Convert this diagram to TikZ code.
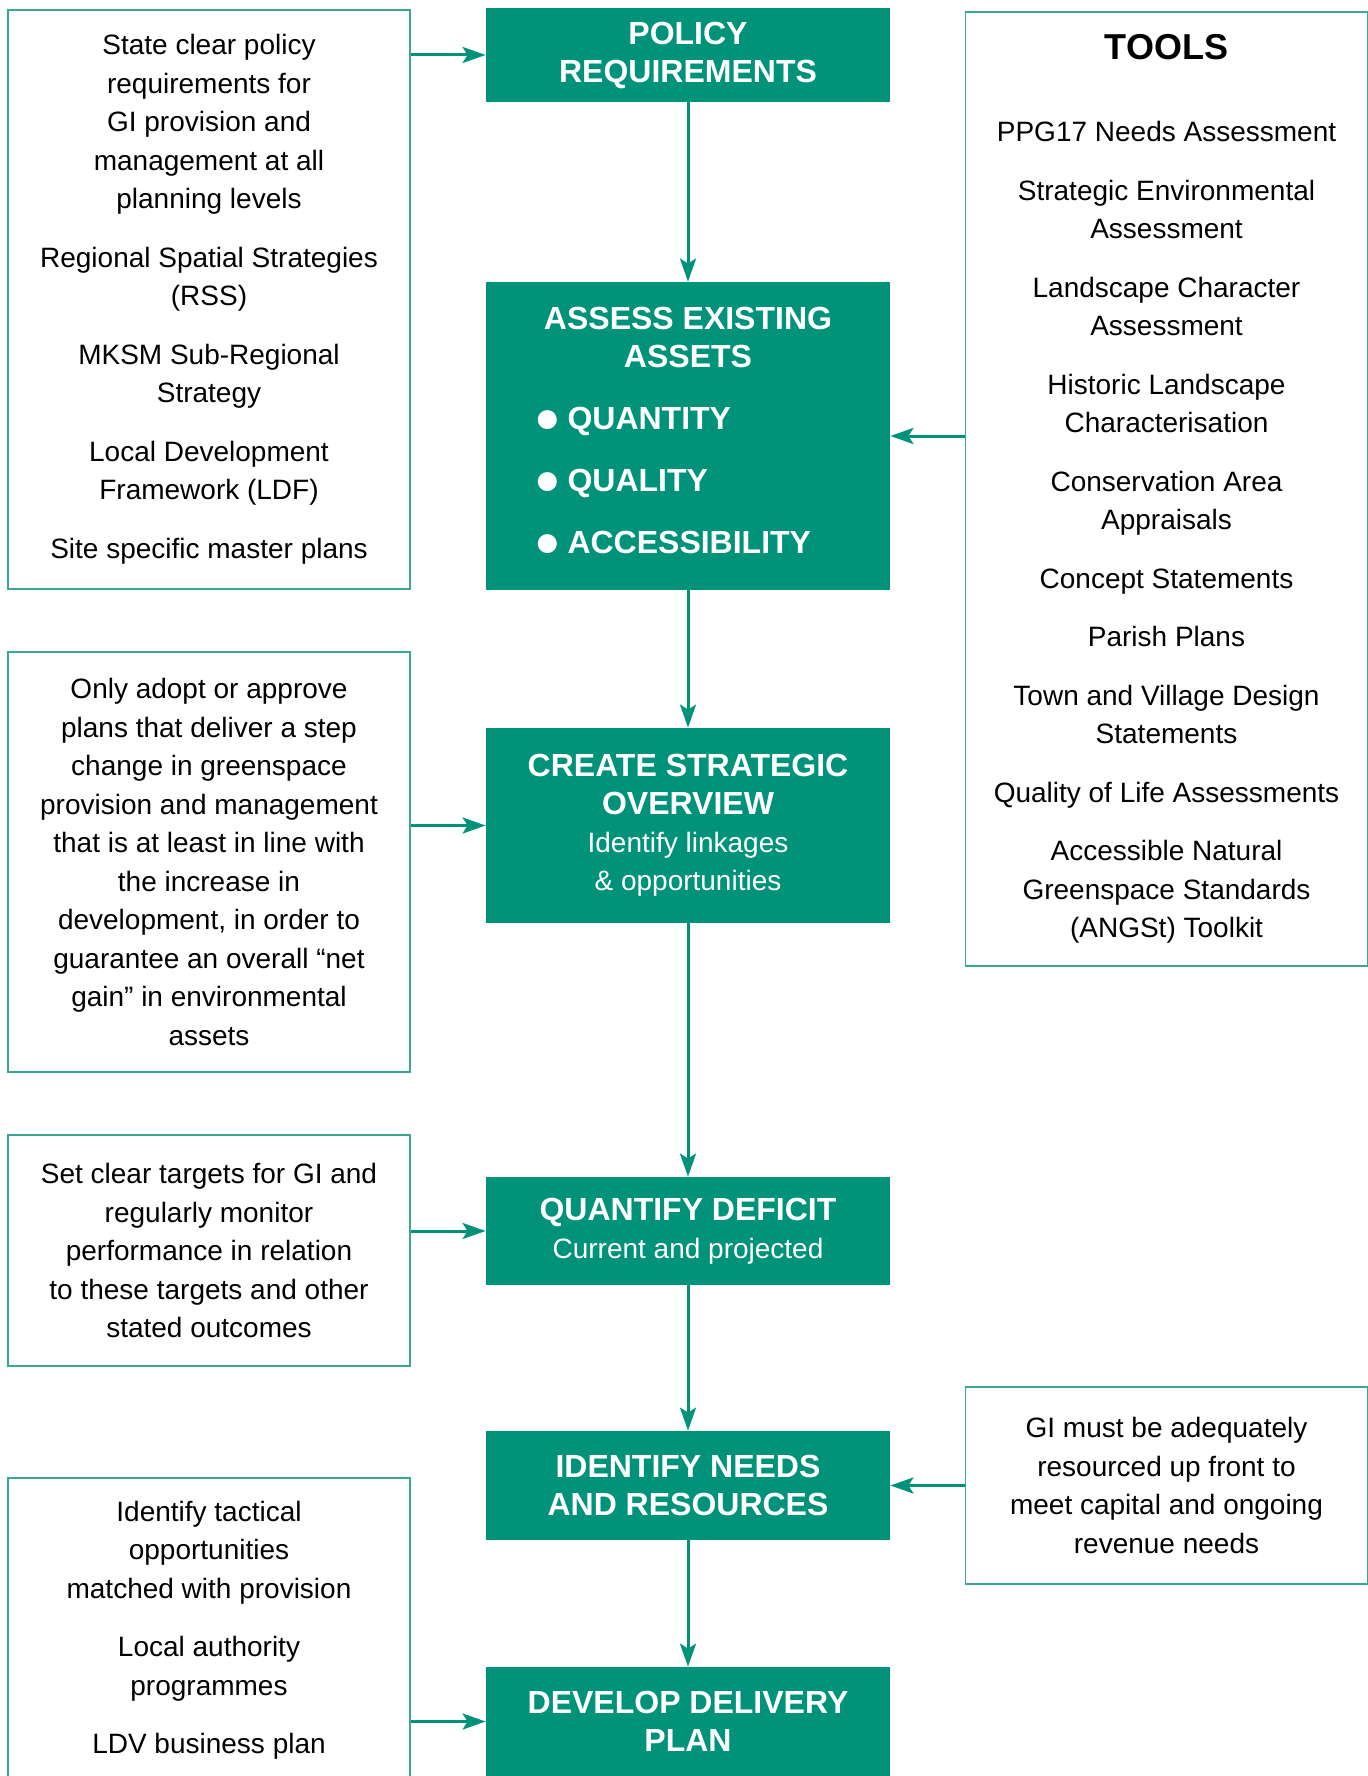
\documentclass[tikz,border=0pt]{standalone}
\usepackage{fontspec}
\setmainfont{Liberation Sans}
\usetikzlibrary{arrows.meta,positioning}
\definecolor{gigreen}{RGB}{0,147,122}
\definecolor{giline}{RGB}{60,166,148}
\newcommand\headfont{\fontsize{16}{19}\selectfont\bfseries}
\newcommand\bodyfont{\fontsize{14}{19.25}\selectfont}
\newcommand\subfont{\mdseries\fontsize{14}{19}\selectfont}
\newcommand\bigdot{{\fontsize{22}{19}\selectfont\raisebox{-1.6pt}{●}}\hspace{3pt}}
\tikzset{
  stepbox/.style={fill=gigreen, text=white, minimum width=202pt, inner sep=0pt, align=center, font=\headfont},
  notebox/.style={draw=giline, line width=0.8pt, minimum width=201pt, inner sep=0pt, align=center, font=\bodyfont},
  link/.style={draw=gigreen, line width=1.5pt, -{Stealth[length=11.5pt,width=8pt,inset=2.5pt]}},
}
\begin{document}
\begin{tikzpicture}[x=0.5pt,y=-0.5pt]
  \useasboundingbox (0,0) rectangle (1368,1776);
  \clip (0,0) rectangle (1368,1776);
  % main steps
  \node[stepbox, minimum height=47pt] (policy) at (688,55) {POLICY\\REQUIREMENTS};
  \node[stepbox, minimum height=154pt] (assess) at (688,436)
    {ASSESS EXISTING\\ASSETS\\[12pt]\hspace*{-15pt}\begin{tabular}[t]{@{}l@{}}\bigdot QUANTITY\\[12pt]\bigdot QUALITY\\[12pt]\bigdot ACCESSIBILITY\end{tabular}};
  \node[stepbox, minimum height=97.5pt] (create) at (688,825.5)
    {CREATE STRATEGIC\\OVERVIEW\\\subfont Identify linkages\\\subfont\& opportunities};
  \node[stepbox, minimum height=54pt] (quantify) at (688,1231)
    {QUANTIFY DEFICIT\\\subfont Current and projected};
  \node[stepbox, minimum height=54.5pt] (identify) at (688,1485.5) {IDENTIFY NEEDS\\AND RESOURCES};
  \node[stepbox, minimum height=54.5pt] (develop) at (688,1721.5) {DEVELOP DELIVERY\\PLAN};
  % notes on the left
  \node[notebox, minimum height=289.5pt] (stateNote) at (209,299.5)
    {State clear policy\\requirements for\\GI provision and\\management at all\\planning levels\\[10pt]
     Regional Spatial Strategies\\(RSS)\\[10pt]MKSM Sub-Regional\\Strategy\\[10pt]
     Local Development\\Framework (LDF)\\[10pt]Site specific master plans};
  \node[notebox, minimum height=210pt] (adoptNote) at (209,862)
    {Only adopt or approve\\plans that deliver a step\\change in greenspace\\provision and management\\that is at least in line with\\the increase in\\development, in order to\\guarantee an overall “net\\gain” in environmental\\assets};
  \node[notebox, minimum height=115.5pt] (targetNote) at (209,1250.5)
    {Set clear targets for GI and\\regularly monitor\\performance in relation\\to these targets and other\\stated outcomes};
  \node[notebox, minimum height=152pt] (tacticNote) at (209,1630)
    {Identify tactical\\opportunities\\matched with provision\\[10pt]Local authority\\programmes\\[10pt]LDV business plan};
  % notes on the right
  \node[notebox, minimum height=477pt] (tools) at (1166.5,489)
    {{\fontsize{18}{19}\selectfont\bfseries TOOLS}\\[22pt]
     PPG17 Needs Assessment\\[10pt]Strategic Environmental\\Assessment\\[10pt]
     Landscape Character\\Assessment\\[10pt]Historic Landscape\\Characterisation\\[10pt]
     Conservation Area\\Appraisals\\[10pt]Concept Statements\\[10pt]Parish Plans\\[10pt]
     Town and Village Design\\Statements\\[10pt]Quality of Life Assessments\\[10pt]
     Accessible Natural\\Greenspace Standards\\(ANGSt) Toolkit};
  \node[notebox, minimum height=98.5pt] (resNote) at (1166.5,1485.5)
    {GI must be adequately\\resourced up front to\\meet capital and ongoing\\revenue needs};
  % connectors
  \draw[link] (policy) -- (assess);
  \draw[link] (assess) -- (create);
  \draw[link] (create) -- (quantify);
  \draw[link] (quantify) -- (identify);
  \draw[link] (identify) -- (develop);
  \draw[link] (stateNote.east |- policy.west) -- (policy.west);
  \draw[link] (adoptNote.east |- create.west) -- (create.west);
  \draw[link] (targetNote.east |- quantify.west) -- (quantify.west);
  \draw[link] (tacticNote.east |- develop.west) -- (develop.west);
  \draw[link] (tools.west |- assess.east) -- (assess.east);
  \draw[link] (resNote.west |- identify.east) -- (identify.east);
\end{tikzpicture}
\end{document}
